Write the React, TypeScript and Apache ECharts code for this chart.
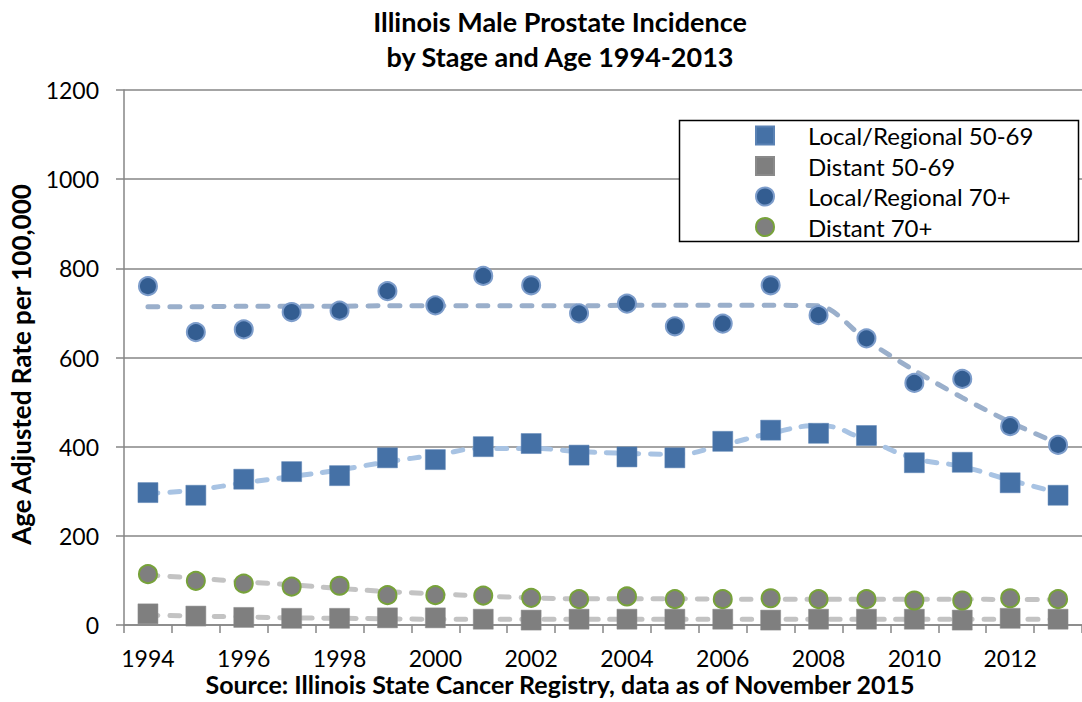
import React, { useEffect, useRef } from "react";
import * as echarts from "echarts";

const years = ["1994","1995","1996","1997","1998","1999","2000","2001","2002","2003","2004","2005","2006","2007","2008","2009","2010","2011","2012","2013"];

const localRegional5069 = [297, 291, 327, 344, 335, 375, 371, 400, 407, 381, 377, 375, 412, 437, 430, 425, 364, 365, 319, 291];
const distant5069 = [25, 20, 17, 15, 15, 16, 16, 13, 11, 13, 13, 13, 13, 11, 13, 13, 13, 11, 15, 13];
const localRegional70 = [760, 657, 663, 702, 705, 749, 717, 783, 762, 699, 721, 670, 676, 762, 695, 643, 543, 552, 446, 404];
const distant70 = [114, 99, 93, 86, 88, 67, 67, 66, 61, 58, 64, 58, 58, 60, 58, 58, 55, 55, 60, 58];

const trendLocal5069 = [295, 303, 319, 333, 348, 366, 381, 396, 396, 389, 385, 383, 404, 430, 447, 415, 374, 355, 325, 297];
const trendDistant5069 = [22, 20, 18, 16, 15, 14, 13, 13, 13, 13, 13, 13, 13, 13, 13, 13, 13, 13, 13, 13];
const trendLocal70 = [714, 714, 715, 715, 715, 716, 716, 716, 716, 716, 717, 717, 717, 717, 716, 639, 571, 510, 455, 407];
const trendDistant70 = [112, 105, 97, 90, 82, 75, 70, 65, 61, 59, 59, 59, 58, 58, 58, 58, 58, 58, 57, 57];

const yTicks = { min: 0, max: 1200, interval: 200 };

const names = ["Local/Regional 50-69", "Distant 50-69", "Local/Regional 70+", "Distant 70+"];

const FONT = "Lato";

export default function App() {
  const ref = useRef<HTMLDivElement>(null);
  useEffect(() => {
    if (!ref.current) return;
    const chart = echarts.init(ref.current, undefined, { renderer: "svg" });
    const trend = (name: string, data: number[], color: string, smooth: number) => ({
      name,
      type: "line",
      data,
      smooth,
      symbol: "none",
      silent: true,
      z: 2,
      lineStyle: { color, width: 5, type: [10, 12], cap: "round" },
    });
    chart.setOption({
      animation: false,
      backgroundColor: "#ffffff",
      textStyle: { fontFamily: FONT },
      title: {
        text: "Illinois Male Prostate Incidence\nby Stage and Age 1994-2013",
        left: 560,
        top: 4,
        padding: 0,
        textAlign: "center",
        textStyle: { fontFamily: FONT, fontWeight: "bold", fontSize: 27, lineHeight: 35, color: "#000" },
      },
      grid: { left: 117, top: 90, width: 972, height: 535, containLabel: false },
      xAxis: {
        type: "category",
        data: years,
        boundaryGap: true,
        axisLine: { show: true, lineStyle: { color: "#868686", width: 1.5 } },
        axisTick: { show: true, interval: 0, length: 8, lineStyle: { color: "#868686", width: 1.5 } },
        axisLabel: { interval: 1, fontFamily: FONT, fontSize: 23, color: "#000", margin: 21 },
        splitLine: { show: false },
      },
      yAxis: {
        type: "value",
        min: yTicks.min,
        max: yTicks.max,
        interval: yTicks.interval,
        name: "Age Adjusted Rate per 100,000",
        nameLocation: "middle",
        nameRotate: 90,
        nameGap: 90,
        nameTextStyle: { fontFamily: FONT, fontWeight: "bold", fontSize: 26, color: "#000", padding: [0, 14, 0, 0] },
        axisLine: { show: true, lineStyle: { color: "#868686", width: 1.5 } },
        axisTick: { show: true, length: 8, lineStyle: { color: "#868686", width: 1.5 } },
        axisLabel: { fontFamily: FONT, fontSize: 23, color: "#000", margin: 25, formatter: (v: number) => String(v) },
        splitLine: { show: true, lineStyle: { color: "#868686", width: 1.5 } },
      },
      legend: {
        data: names,
        orient: "vertical",
        left: 755,
        top: 123,
        padding: 0,
        itemWidth: 18,
        itemHeight: 18,
        itemGap: 5.5,
        selectedMode: false,
        textStyle: { fontFamily: FONT, fontSize: 24, lineHeight: 25, color: "#000", padding: [0, 0, 0, 29] },
      },
      graphic: [
        {
          type: "rect",
          z: 3,
          shape: { x: 679.5, y: 120.5, width: 399, height: 121 },
          style: { fill: "#ffffff", stroke: "#000000", lineWidth: 1.5 },
        },
        {
          type: "text",
          z: 3,
          style: {
            text: "Source: Illinois State Cancer Registry, data as of November 2015",
            x: 560,
            y: 684,
            textAlign: "center",
            textVerticalAlign: "middle",
            fontFamily: FONT,
            fontWeight: "bold",
            fontSize: 25,
            fill: "#000",
          },
        },
      ],
      series: [
        trend("Trend Local/Regional 50-69", trendLocal5069, "#a8c3e3", 0.5),
        trend("Trend Distant 50-69", trendDistant5069, "#c3c3c3", 0.5),
        trend("Trend Local/Regional 70+", trendLocal70, "#9aafcb", 0.3),
        trend("Trend Distant 70+", trendDistant70, "#c3c3c3", 0.5),
        {
          name: names[0],
          type: "scatter",
          data: localRegional5069,
          symbol: "rect",
          symbolSize: 20,
          z: 3,
          itemStyle: { color: "#4571a6", borderColor: "#5a82b4", borderWidth: 0.5, opacity: 1 },
        },
        {
          name: names[1],
          type: "scatter",
          data: distant5069,
          symbol: "rect",
          symbolSize: 20,
          z: 3,
          itemStyle: { color: "#7f7f7f", borderColor: "#8a8a8a", borderWidth: 0.5, opacity: 1 },
        },
        {
          name: names[2],
          type: "scatter",
          data: localRegional70,
          symbol: "circle",
          symbolSize: 18,
          z: 3,
          itemStyle: { color: "#335d91", borderColor: "#7d9dcb", borderWidth: 2, opacity: 1 },
        },
        {
          name: names[3],
          type: "scatter",
          data: distant70,
          symbol: "circle",
          symbolSize: 18,
          z: 3,
          itemStyle: { color: "#7f7f7f", borderColor: "#77a23a", borderWidth: 2, opacity: 1 },
        },
      ],
    });
    return () => chart.dispose();
  }, []);
  return <div ref={ref} style={{ position: "fixed", left: 0, top: 0, width: 1082, height: 702 }} />;
}
